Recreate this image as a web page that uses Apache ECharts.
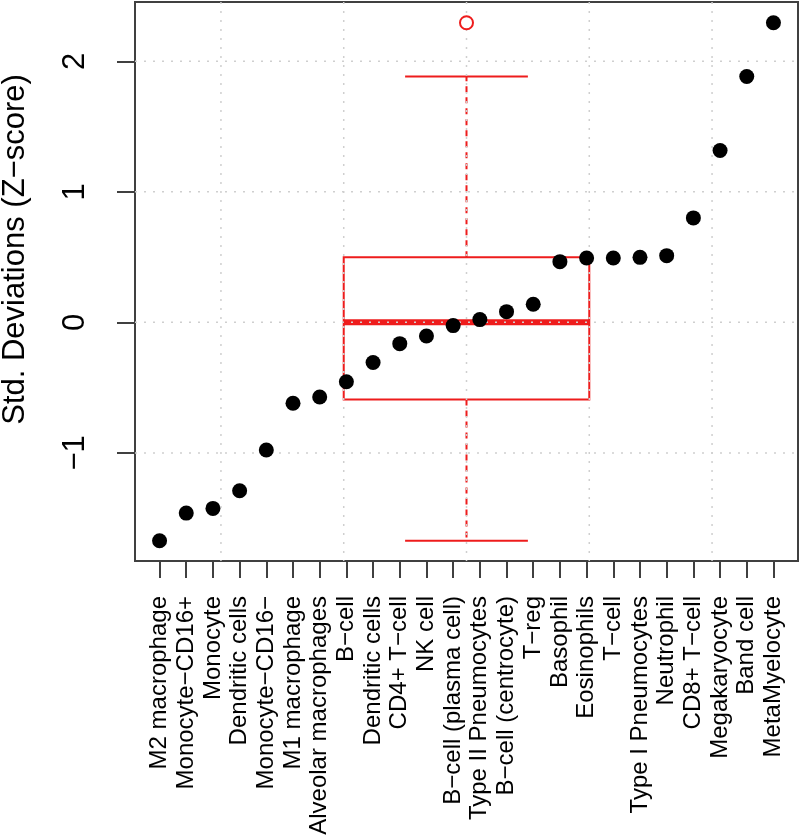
<!DOCTYPE html>
<html><head><meta charset="utf-8">
<script src="https://cdn.jsdelivr.net/npm/echarts@6/dist/echarts.min.js"></script>
<style>html,body{margin:0;padding:0;background:#fff}#c{width:800px;height:837px}</style>
</head><body><div id="c"></div>
<script>
// ---- data ----
const categories = [
  'M2 macrophage', 'Monocyte\u2212CD16+', 'Monocyte', 'Dendritic cells', 'Monocyte\u2212CD16\u2212',
  'M1 macrophage', 'Alveolar macrophages', 'B\u2212cell', 'Dendritic cells', 'CD4+ T\u2212cell',
  'NK cell', 'B\u2212cell (plasma cell)', 'Type II Pneumocytes', 'B\u2212cell (centrocyte)', 'T\u2212reg',
  'Basophil', 'Eosinophils', 'T\u2212cell', 'Type I Pneumocytes', 'Neutrophil',
  'CD8+ T\u2212cell', 'Megakaryocyte', 'Band cell', 'MetaMyelocyte'
];
const zScores = [
  -1.673, -1.461, -1.425, -1.290, -0.978,
  -0.620, -0.572, -0.455, -0.307, -0.163,
  -0.104, -0.025, 0.021, 0.082, 0.139,
  0.465, 0.493, 0.493, 0.498, 0.511,
  0.800, 1.316, 1.883, 2.295
];
const yTicks = [-1, 0, 1, 2];
const yTickLabels = ['\u22121', '0', '1', '2'];
// boxplot: lower whisker, Q1, median, Q3, upper whisker
const boxStats = [-1.673, -0.59, 0.0, 0.498, 1.883];
const boxOutliers = [2.295];
// vertical grid positions (boxplot x-scale)
const boxGridX = [0.6, 0.8, 1.0, 1.2, 1.4];

// ---- layout / style constants ----
const BOX_AT = 1, BOX_HALF = 0.2, CAP_HALF = 0.1;
const RED = '#ee1c1c';
const FRAME = '#404040';
const FONT = 'Liberation Sans, Arial, sans-serif';

const chart = echarts.init(document.getElementById('c'), null, {renderer: 'canvas'});

const catTicks = categories.map((c, i) => i + 1);

const option = {
  animation: false,
  backgroundColor: '#fff',
  grid: {left: 135, right: 2, top: 2, bottom: 276, containLabel: false, outerBoundsMode: 'none',
    show: true, borderColor: FRAME, borderWidth: 2, backgroundColor: 'transparent'},
  xAxis: [
    {
      type: 'value', min: 0.08, max: 24.92,
      axisLine: {show: false, onZero: false},
      splitLine: {show: false},
      axisTick: {show: true, customValues: catTicks, length: 17, lineStyle: {color: FRAME, width: 2}},
      axisLabel: {
        customValues: catTicks, rotate: 90, margin: 35, fontSize: 24, color: '#000', fontFamily: FONT,
        padding: [10, 0, 0, 0],
        formatter: v => categories[Math.round(v) - 1]
      }
    },
    {type: 'value', min: 0.46, max: 1.54, show: false, axisLine: {onZero: false}}
  ],
  yAxis: {
    type: 'value', min: -1.828, max: 2.454,
    name: 'Std. Deviations (Z\u2212score)', nameLocation: 'middle', nameGap: 104,
    nameTextStyle: {fontSize: 31, color: '#000', fontFamily: FONT, padding: [0, 0, 0, 64]},
    axisLine: {show: false, onZero: false},
    splitLine: {show: false},
    axisTick: {show: true, customValues: yTicks, length: 18, lineStyle: {color: FRAME, width: 2}},
    axisLabel: {
      customValues: yTicks, rotate: 90, margin: 44, fontSize: 31, color: '#000', fontFamily: FONT,
      formatter: v => yTickLabels[yTicks.indexOf(Math.round(v))]
    }
  },
  series: [
    {
      type: 'custom', xAxisIndex: 1, silent: true,
      data: [[BOX_AT].concat(boxStats)],
      renderItem: function (params, api) {
        const x = api.value(0);
        const lo = api.value(1), q1 = api.value(2), med = api.value(3), q3 = api.value(4), hi = api.value(5);
        const pL = api.coord([x - BOX_HALF, q3]);
        const pR = api.coord([x + BOX_HALF, q1]);
        const pc = api.coord([x, med]);
        const pLo = api.coord([x, lo]), pHi = api.coord([x, hi]);
        const pQ1 = api.coord([x, q1]), pQ3 = api.coord([x, q3]);
        const cL = api.coord([x - CAP_HALF, lo])[0], cR = api.coord([x + CAP_HALF, lo])[0];
        const line = {stroke: RED, lineWidth: 2, fill: null};
        return {
          type: 'group',
          children: [
            {type: 'line', shape: {x1: pc[0], y1: pQ1[1], x2: pc[0], y2: pLo[1]}, style: {stroke: RED, lineWidth: 2, lineDash: [6, 5]}},
            {type: 'line', shape: {x1: pc[0], y1: pQ3[1], x2: pc[0], y2: pHi[1]}, style: {stroke: RED, lineWidth: 2, lineDash: [6, 5]}},
            {type: 'line', shape: {x1: cL, y1: pLo[1], x2: cR, y2: pLo[1]}, style: line},
            {type: 'line', shape: {x1: cL, y1: pHi[1], x2: cR, y2: pHi[1]}, style: line},
            {type: 'rect', shape: {x: pL[0], y: pL[1], width: pR[0] - pL[0], height: pR[1] - pL[1]}, style: line},
            {type: 'line', shape: {x1: pL[0], y1: pc[1], x2: pR[0], y2: pc[1]}, style: {stroke: RED, lineWidth: 6}}
          ]
        };
      }
    },
    {
      type: 'custom', xAxisIndex: 1, silent: true,
      data: boxGridX.map(v => [v, 0]),
      renderItem: function (params, api) {
        const cs = params.coordSys;
        const x = api.coord([api.value(0), 0])[0];
        return {type: 'line', shape: {x1: x, y1: cs.y, x2: x, y2: cs.y + cs.height},
          style: {stroke: '#cfcfcf', lineWidth: 1.5, lineDash: [2, 7]}};
      }
    },
    {
      type: 'custom', xAxisIndex: 0, silent: true,
      data: yTicks.map(v => [1, v]),
      renderItem: function (params, api) {
        const cs = params.coordSys;
        const y = api.coord([1, api.value(1)])[1];
        return {type: 'line', shape: {x1: cs.x, y1: y, x2: cs.x + cs.width, y2: y},
          style: {stroke: '#cfcfcf', lineWidth: 1.5, lineDash: [2, 7]}};
      }
    },
    {
      type: 'scatter', xAxisIndex: 1, silent: true,
      data: boxOutliers.map(v => [BOX_AT, v]),
      symbol: 'emptyCircle', symbolSize: 13,
      itemStyle: {color: RED, borderColor: RED, borderWidth: 1.8, opacity: 1}
    },
    {
      type: 'scatter', xAxisIndex: 0, silent: true,
      data: zScores.map((v, i) => [i + 1, v]),
      symbol: 'circle', symbolSize: 15,
      itemStyle: {color: '#000', opacity: 1}
    }
  ]
};
chart.setOption(option);
</script>
</body></html>
